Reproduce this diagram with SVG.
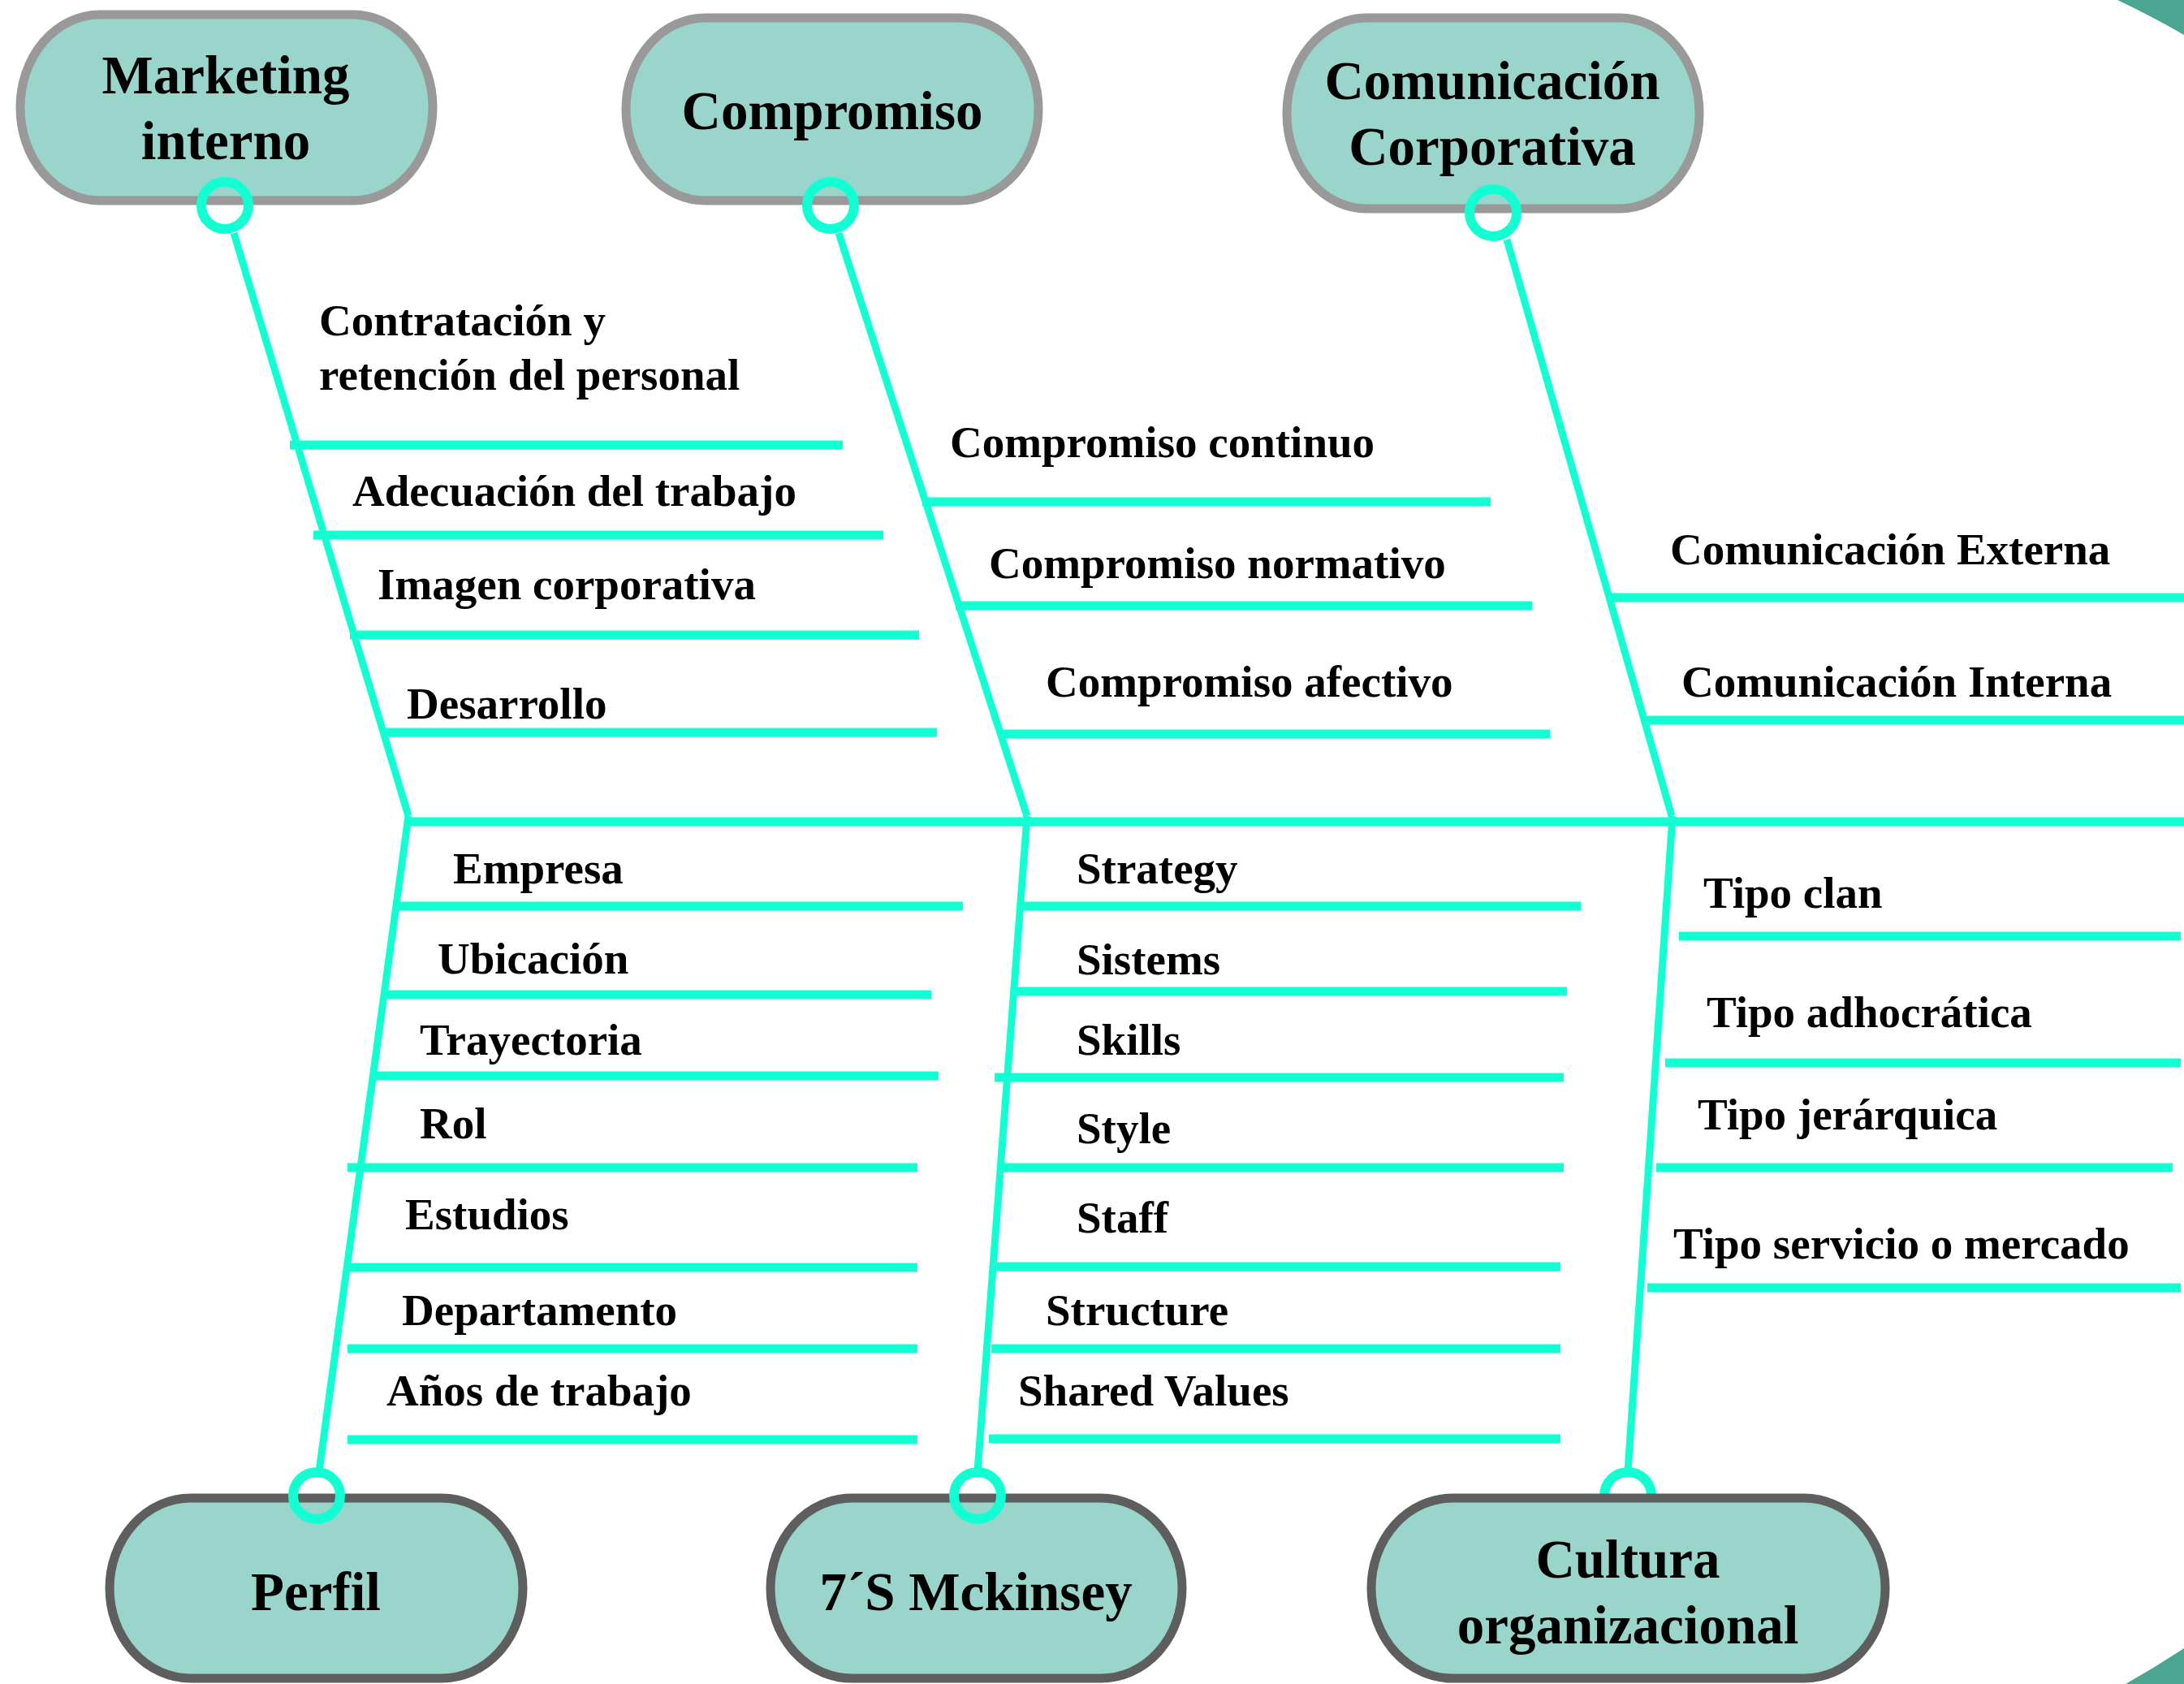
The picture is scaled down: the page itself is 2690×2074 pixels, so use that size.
<svg xmlns="http://www.w3.org/2000/svg" width="2690" height="2074" viewBox="0 0 2690 2074">
  <style>
    .node { fill: #9AD5CB; stroke-width: 11; }
    .top { stroke: #999999; }
    .bottom { stroke: #5E5E5E; }
    .head { font-family: "Liberation Serif", "Times New Roman", serif; font-weight: bold; font-size: 67px; fill: #000; text-anchor: middle; }
    .lbl { font-family: "Liberation Serif", "Times New Roman", serif; font-weight: bold; font-size: 55px; fill: #000; }
    .bone { stroke: #12FFD4; stroke-width: 9; fill: none; }
    .branch { stroke: #12FFD4; stroke-width: 11; fill: none; }
    .ring { stroke: #12FFD4; stroke-width: 12; fill: none; }
  </style>

  <rect x="0" y="0" width="2690" height="2074" fill="#FFFFFF"/>

  <!-- corner decoration -->
  <g id="corner-decor" fill="#4AA690">
    <path d="M2608,0 A1148,1148 0 0 1 2690,43 L2690,0 Z"/>
    <path d="M2690,2030 A1148,1148 0 0 1 2618,2074 L2690,2074 Z"/>
  </g>

  <!-- category nodes -->
  <g id="node-marketing">
    <rect class="node top" x="25" y="18" width="508" height="229" rx="98" ry="114"/>
    <text class="head" x="278" y="115">Marketing</text>
    <text class="head" x="278" y="196">interno</text>
  </g>
  <g id="node-compromiso">
    <rect class="node top" x="771" y="22" width="508" height="225" rx="98" ry="112"/>
    <text class="head" x="1025" y="159">Compromiso</text>
  </g>
  <g id="node-comunicacion">
    <rect class="node top" x="1585" y="22" width="508" height="235" rx="98" ry="117"/>
    <text class="head" x="1838" y="122">Comunicación</text>
    <text class="head" x="1838" y="203">Corporativa</text>
  </g>
  <g id="node-perfil">
    <rect class="node bottom" x="135" y="1845" width="509" height="222" rx="100" ry="111"/>
    <text class="head" x="389" y="1983">Perfil</text>
  </g>
  <g id="node-mckinsey">
    <rect class="node bottom" x="949" y="1845" width="507" height="222" rx="100" ry="111"/>
    <text class="head" x="1202" y="1983">7´S Mckinsey</text>
  </g>

  <!-- connectors: spine, bones, branches and rings -->
  <g id="connectors">
    <line class="branch" x1="500" y1="1012" x2="2690" y2="1012"/>

    <line class="bone" x1="288" y1="287" x2="503" y2="1005"/>
    <line class="bone" x1="1033" y1="287" x2="1265" y2="1005"/>
    <line class="bone" x1="1856" y1="295" x2="2059" y2="1005"/>

    <line class="bone" x1="503" y1="1005" x2="393" y2="1812"/>
    <line class="bone" x1="1265" y1="1005" x2="1204" y2="1812"/>
    <line class="bone" x1="2060" y1="1005" x2="2005" y2="1812"/>

    <circle class="ring" cx="277" cy="253" r="29"/>
    <circle class="ring" cx="1023" cy="253" r="29"/>
    <circle class="ring" cx="1839" cy="262" r="29"/>
    <circle class="ring" cx="390" cy="1842" r="29"/>
    <circle class="ring" cx="1204" cy="1842" r="29"/>
    <circle class="ring" cx="2005" cy="1842" r="29"/>

    <!-- Marketing interno -->
    <line class="branch" x1="357" y1="548" x2="1038" y2="548"/>
    <line class="branch" x1="386" y1="659" x2="1088" y2="659"/>
    <line class="branch" x1="431" y1="782" x2="1132" y2="782"/>
    <line class="branch" x1="472" y1="902" x2="1154" y2="902"/>
    <!-- Compromiso -->
    <line class="branch" x1="1136" y1="618" x2="1836" y2="618"/>
    <line class="branch" x1="1177" y1="746" x2="1887" y2="746"/>
    <line class="branch" x1="1232" y1="904" x2="1909" y2="904"/>
    <!-- Comunicación Corporativa -->
    <line class="branch" x1="1982" y1="736" x2="2690" y2="736"/>
    <line class="branch" x1="2024" y1="887" x2="2690" y2="887"/>
    <!-- Perfil -->
    <line class="branch" x1="491" y1="1116" x2="1186" y2="1116"/>
    <line class="branch" x1="472" y1="1225" x2="1147" y2="1225"/>
    <line class="branch" x1="461" y1="1325" x2="1156" y2="1325"/>
    <line class="branch" x1="428" y1="1438" x2="1130" y2="1438"/>
    <line class="branch" x1="428" y1="1561" x2="1130" y2="1561"/>
    <line class="branch" x1="428" y1="1661" x2="1130" y2="1661"/>
    <line class="branch" x1="428" y1="1773" x2="1130" y2="1773"/>
    <!-- 7´S Mckinsey -->
    <line class="branch" x1="1261" y1="1116" x2="1947" y2="1116"/>
    <line class="branch" x1="1252" y1="1221" x2="1930" y2="1221"/>
    <line class="branch" x1="1225" y1="1327" x2="1926" y2="1327"/>
    <line class="branch" x1="1235" y1="1438" x2="1926" y2="1438"/>
    <line class="branch" x1="1228" y1="1560" x2="1922" y2="1560"/>
    <line class="branch" x1="1221" y1="1661" x2="1922" y2="1661"/>
    <line class="branch" x1="1218" y1="1772" x2="1922" y2="1772"/>
    <!-- Cultura organizacional -->
    <line class="branch" x1="2068" y1="1153" x2="2686" y2="1153"/>
    <line class="branch" x1="2051" y1="1309" x2="2686" y2="1309"/>
    <line class="branch" x1="2040" y1="1438" x2="2676" y2="1438"/>
    <line class="branch" x1="2029" y1="1586" x2="2686" y2="1586"/>
  </g>

  <!-- drawn after the connectors so its ring sits behind it -->
  <g id="node-cultura">
    <rect class="node bottom" x="1689" y="1845" width="633" height="222" rx="100" ry="111"/>
    <text class="head" x="2005" y="1943">Cultura</text>
    <text class="head" x="2005" y="2024">organizacional</text>
  </g>

  <!-- branch labels -->
  <g id="labels-marketing" class="lbl">
    <text x="393" y="413">Contratación y</text>
    <text x="393" y="480">retención del personal</text>
    <text x="434" y="623">Adecuación del trabajo</text>
    <text x="465" y="738">Imagen corporativa</text>
    <text x="501" y="885">Desarrollo</text>
  </g>
  <g id="labels-compromiso" class="lbl">
    <text x="1170" y="563">Compromiso continuo</text>
    <text x="1218" y="712">Compromiso normativo</text>
    <text x="1288" y="858">Compromiso afectivo</text>
  </g>
  <g id="labels-comunicacion" class="lbl">
    <text x="2057" y="695">Comunicación Externa</text>
    <text x="2071" y="858">Comunicación Interna</text>
  </g>
  <g id="labels-perfil" class="lbl">
    <text x="558" y="1088">Empresa</text>
    <text x="539" y="1199">Ubicación</text>
    <text x="517" y="1299">Trayectoria</text>
    <text x="517" y="1402">Rol</text>
    <text x="499" y="1514">Estudios</text>
    <text x="495" y="1632">Departamento</text>
    <text x="476" y="1731">Años de trabajo</text>
  </g>
  <g id="labels-mckinsey" class="lbl">
    <text x="1326" y="1088">Strategy</text>
    <text x="1326" y="1200">Sistems</text>
    <text x="1326" y="1299">Skills</text>
    <text x="1326" y="1408">Style</text>
    <text x="1326" y="1518">Staff</text>
    <text x="1288" y="1632">Structure</text>
    <text x="1254" y="1731">Shared Values</text>
  </g>
  <g id="labels-cultura" class="lbl">
    <text x="2098" y="1118">Tipo clan</text>
    <text x="2102" y="1265">Tipo adhocrática</text>
    <text x="2091" y="1391">Tipo jerárquica</text>
    <text x="2061" y="1550">Tipo servicio o mercado</text>
  </g>
</svg>
